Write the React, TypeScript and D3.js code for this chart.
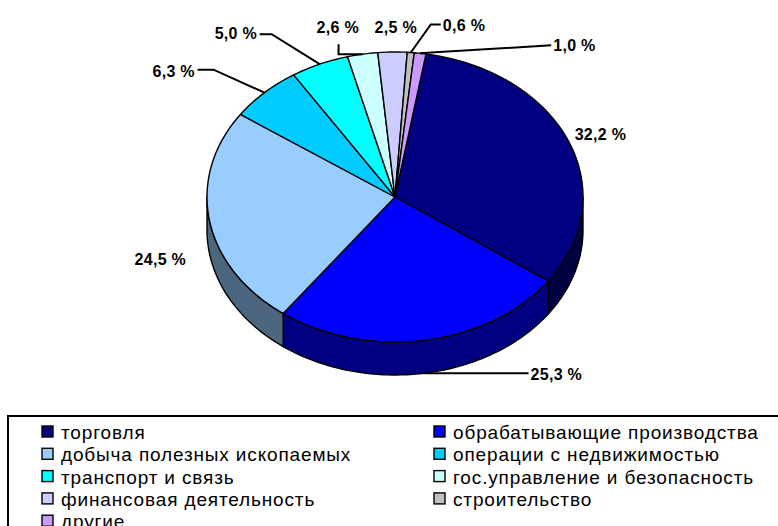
import React, { useEffect, useRef } from "react";
import * as d3 from "d3";

const categories = [
  "торговля",
  "обрабатывающие производства",
  "добыча полезных ископаемых",
  "операции с недвижимостью",
  "транспорт и связь",
  "гос.управление и безопасность",
  "финансовая деятельность",
  "строительство",
  "другие",
];
const values = [32.2, 25.3, 24.5, 6.3, 5.0, 2.6, 2.5, 0.6, 1.0];
const valueLabels = ["32,2 %", "25,3 %", "24,5 %", "6,3 %", "5,0 %", "2,6 %", "2,5 %", "0,6 %", "1,0 %"];
const colors = ["#000080", "#0000FF", "#99CCFF", "#00CCFF", "#00FFFF", "#CCFFFF", "#CCCCFF", "#C0C0C0", "#CC99FF"];

// where each label sits relative to its slice's edge point, and the bends of its leader line
const labelOffsets: [number, number][] = [
  [6, -1], [106, 7], [-75, 11], [-112, -16], [-105, -25], [-46, -21], [-18, -19], [32, -22], [133, -2],
];
const leaderBends: [number, number][][] = [
  [], [[104, 0]], [], [[-51, -23], [-67, -23]], [[-48, -30], [-60, -30]],
  [[-24, 0], [-24, -10]], [], [[20, -28], [30, -28]], [[15, -1], [131, -8]],
];

const App = () => {
  const svgRef = useRef<SVGSVGElement>(null);

  useEffect(() => {
    const width = 778;
    const height = 526;
    const cx = 395, cy = 197, rx = 188, ry = 145, depth = 33;

    const svg = d3.select(svgRef.current).attr("width", width).attr("height", height);
    svg.selectAll("*").remove();

    const start = (9.5 * Math.PI) / 180;
    const pie = d3.pie<number>().sort(null).startAngle(start).endAngle(start + 2 * Math.PI);
    const arcs = pie(values);

    const pt = (a: number, dy = 0): [number, number] => [cx + rx * Math.sin(a), cy - ry * Math.cos(a) + dy];
    const sample = (a0: number, a1: number, dy = 0) => {
      const n = Math.max(2, Math.ceil(Math.abs(a1 - a0) * 40));
      return d3.range(n + 1).map((i) => pt(a0 + ((a1 - a0) * i) / n, dy));
    };
    const line = d3.line();
    const shade = (c: string) => {
      const k = d3.rgb(c);
      return d3.rgb(k.r * 0.5, k.g * 0.5, k.b * 0.5).toString();
    };

    // side walls (front half only)
    const g = svg.append("g");
    arcs.forEach((d, i) => {
      const s = Math.max(d.startAngle, Math.PI / 2);
      const e = Math.min(d.endAngle, (3 * Math.PI) / 2);
      if (e <= s) return;
      const pts = [...sample(s, e), ...sample(e, s, depth)];
      g.append("path")
        .attr("d", line(pts) + "Z")
        .attr("fill", shade(colors[i]))
        .attr("stroke", "#000")
        .attr("stroke-width", 1.4)
        .attr("stroke-linejoin", "round");
    });

    // top faces
    arcs.forEach((d, i) => {
      const pts: [number, number][] = [[cx, cy], ...sample(d.startAngle, d.endAngle)];
      g.append("path")
        .attr("d", line(pts) + "Z")
        .attr("fill", colors[i])
        .attr("stroke", "#000")
        .attr("stroke-width", 1.4)
        .attr("stroke-linejoin", "round");
    });

    // value labels with leader lines
    arcs.forEach((d, i) => {
      const mid = (d.startAngle + d.endAngle) / 2;
      const norm = mid % (2 * Math.PI);
      const front = norm > Math.PI / 2 && norm < (3 * Math.PI) / 2;
      const [ax, ay] = pt(mid, front ? depth : 0);
      if (leaderBends[i].length) {
        const pts: [number, number][] = [[ax, ay], ...leaderBends[i].map(([bx, by]) => [ax + bx, ay + by] as [number, number])];
        g.append("path")
          .attr("d", line(pts))
          .attr("fill", "none")
          .attr("stroke", "#000")
          .attr("stroke-width", 2);
      }
      g.append("text")
        .attr("x", ax + labelOffsets[i][0])
        .attr("y", ay + labelOffsets[i][1])
        .attr("font-family", "'Liberation Sans', Arial, sans-serif")
        .attr("font-weight", "bold")
        .attr("font-size", 16)
        .attr("letter-spacing", 0.3)
        .attr("fill", "#000")
        .text(valueLabels[i]);
    });

    // legend
    const legend = svg.append("g");
    legend.append("rect")
      .attr("x", 8)
      .attr("y", 416)
      .attr("width", 800)
      .attr("height", 200)
      .attr("fill", "#fff")
      .attr("stroke", "#000")
      .attr("stroke-width", 2);

    const colX = [42, 434];
    categories.forEach((name, i) => {
      const col = i % 2;
      const row = Math.floor(i / 2);
      const y = 426 + row * 22.3;
      legend.append("rect")
        .attr("x", colX[col])
        .attr("y", y)
        .attr("width", 11)
        .attr("height", 11)
        .attr("fill", colors[i])
        .attr("stroke", "#000")
        .attr("stroke-width", 1.4);
      legend.append("text")
        .attr("x", colX[col] + 19)
        .attr("y", y + 13)
        .attr("font-family", "'Liberation Sans', Arial, sans-serif")
        .attr("font-size", 19)
        .attr("letter-spacing", 0.85)
        .attr("fill", "#000")
        .text(name);
    });
  }, []);

  return (
    <div style={{ position: "absolute", left: 0, top: 0 }}>
      <svg ref={svgRef} style={{ display: "block", background: "#fff" }}></svg>
    </div>
  );
};

export default App;
